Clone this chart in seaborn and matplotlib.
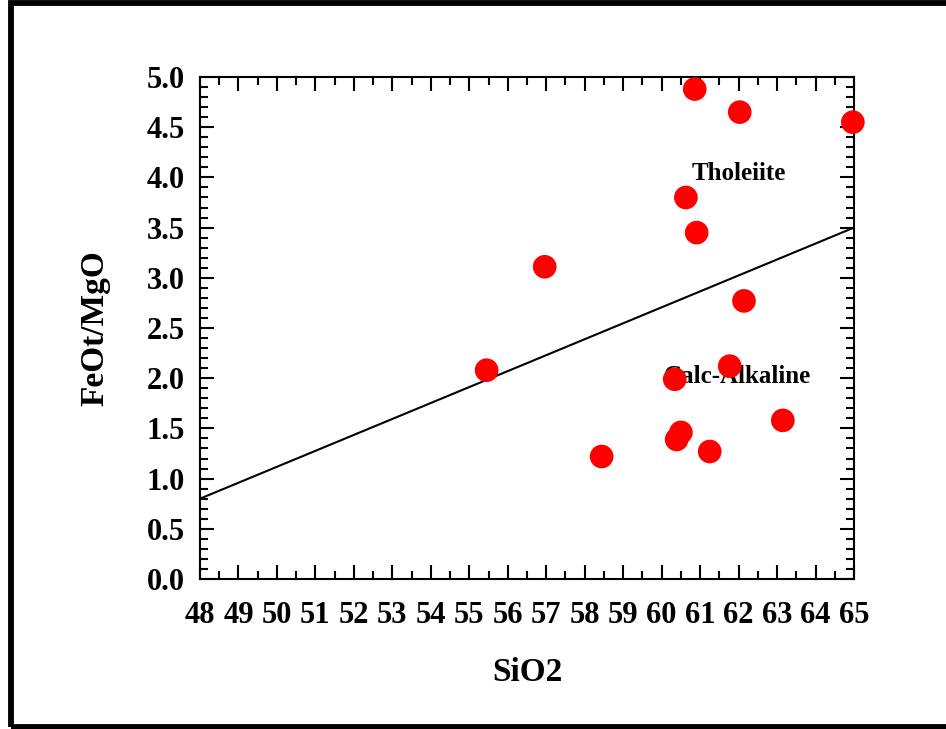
import matplotlib
matplotlib.use('Agg')
import matplotlib.pyplot as plt
import seaborn as sns
import pandas as pd
from matplotlib.patches import Rectangle
from matplotlib.ticker import MultipleLocator, FormatStrFormatter

# sample values
sio2 = [60.86, 62.03, 64.97, 60.63, 60.91, 56.96, 62.14, 55.45, 61.77, 60.34, 63.15, 60.50, 60.39, 61.25, 58.44]
feo_mgo = [4.88, 4.65, 4.55, 3.80, 3.45, 3.11, 2.77, 2.08, 2.12, 1.99, 1.58, 1.46, 1.39, 1.27, 1.22]

# tholeiite / calc-alkaline divide
line_x = [48, 65]
line_y = [0.8, 3.5]

df = pd.DataFrame(dict(SiO2=sio2, ratio=feo_mgo))
lines = pd.DataFrame(dict(x=line_x, y=line_y))

sns.set_theme(style='white')
plt.rcParams['font.family'] = ['Liberation Serif', 'DejaVu Serif']
plt.rcParams['font.weight'] = 'bold'
for k in ('text.color', 'axes.labelcolor', 'xtick.color', 'ytick.color'):
    plt.rcParams[k] = 'black'

fig = plt.figure(figsize=(9.46, 7.29), dpi=100)
ax = fig.add_axes([200/946, 1-579/729, 654/946, 502/729])

sns.lineplot(data=lines, x='x', y='y', ax=ax, color='black', linewidth=1.5)
sns.scatterplot(data=df, x='SiO2', y='ratio', ax=ax, color='red', s=290,
                edgecolor='none', linewidth=0, clip_on=False, zorder=5)

ax.text(62.01, 4.04, 'Tholeiite', fontsize=18, fontweight='bold', ha='center', va='center')
ax.text(61.98, 2.02, 'Calc-Alkaline', fontsize=18, fontweight='bold', ha='center', va='center')

ax.set_xlim(48, 65)
ax.set_ylim(0, 5)
ax.xaxis.set_major_locator(MultipleLocator(1))
ax.xaxis.set_minor_locator(MultipleLocator(0.5))
ax.yaxis.set_major_locator(MultipleLocator(0.5))
ax.yaxis.set_minor_locator(MultipleLocator(0.1))
ax.yaxis.set_major_formatter(FormatStrFormatter('%.1f'))

ax.tick_params(which='both', direction='in', top=True, right=True, bottom=True, left=True,
               width=1.5, color='black')
ax.tick_params(which='major', length=10, labelsize=22)
ax.tick_params(axis='x', which='major', pad=16)
ax.tick_params(axis='y', which='major', pad=11)
ax.tick_params(which='minor', length=5.5)
for lab in ax.get_xticklabels() + ax.get_yticklabels():
    lab.set_fontweight('bold')

for sp in ax.spines.values():
    sp.set_color('black')
    sp.set_linewidth(1.5)

ax.set_xlabel('SiO2', fontsize=24, fontweight='bold', labelpad=19)
ax.set_ylabel('FeOt/MgO', fontsize=24, fontweight='bold', labelpad=26)

# outer frame, right edge runs off the canvas
fig.patches.append(Rectangle((10.5/946, 2.5/729), 1.2, 724/729, transform=fig.transFigure,
                             fill=False, edgecolor='black', linewidth=4.2))

fig.savefig('out.png', dpi=100)
